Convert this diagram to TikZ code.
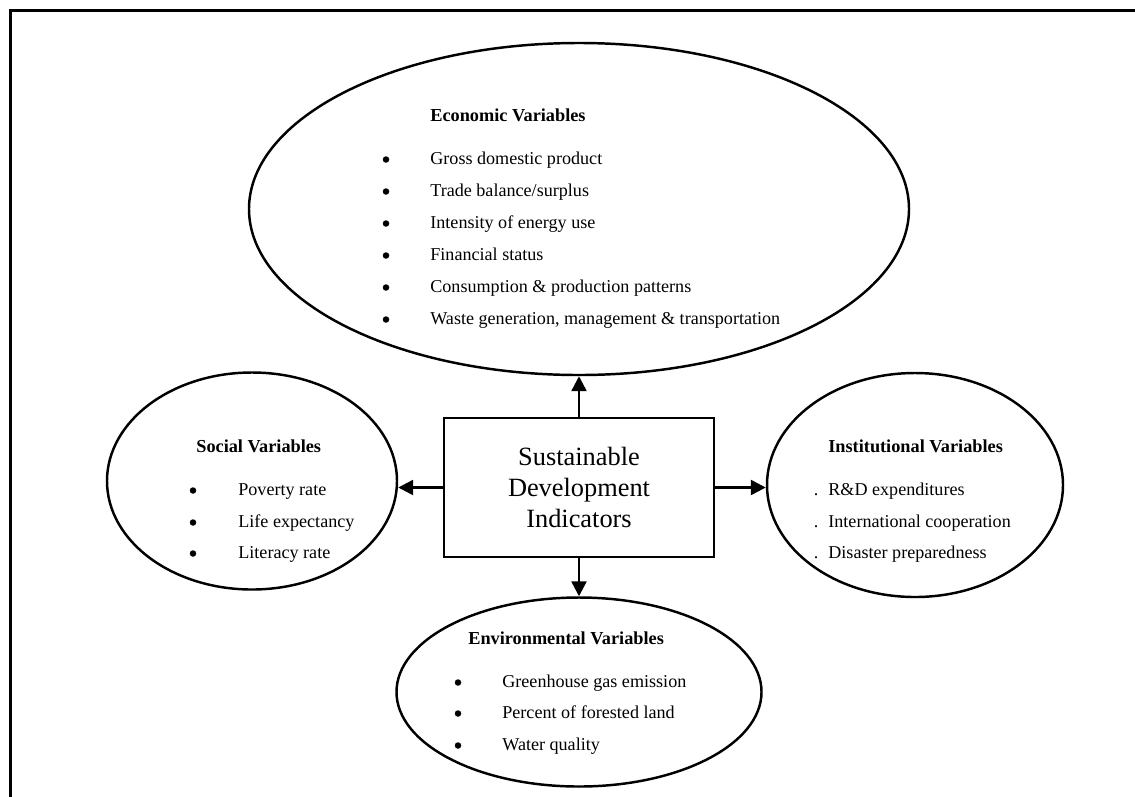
\documentclass[tikz,border=0pt]{standalone}
\usepackage{fontspec}
\setmainfont{Liberation Serif}
\usepackage{tikz}
\usetikzlibrary{positioning, arrows.meta, shapes.geometric}
\newcommand{\itemfont}{\fontsize{10.3}{12}\selectfont}
\newcommand{\headfont}{\fontsize{10.4}{12}\selectfont\bfseries}
\tikzstyle{arrow} = [line width=1.4pt, -{Triangle[length=3mm, width=3mm]}]
\tikzset{
  vargroup/.style={ellipse, draw, line width=1.4pt, inner sep=0pt},
  indicator/.style={rectangle, draw, line width=0.7pt, minimum width=54mm, minimum height=27.8mm, align=center, font=\fontsize{15}{17.6}\selectfont},
  heading/.style={anchor=base west, inner sep=0pt, font=\headfont},
  entry/.style={anchor=base west, inner sep=0pt, font=\itemfont},
  bulletmark/.style={circle, fill, inner sep=0pt, minimum size=1.3mm},
  dotmark/.style={anchor=base, inner sep=0pt, font=\itemfont},
  pageframe/.style={line width=1.5pt}
}

\begin{document}
\begin{tikzpicture}[x=0.2mm, y=-0.2mm]
  \useasboundingbox (0,0) rectangle (1135,796);
  % Page frame
  \draw[pageframe] (10.3,810) -- (10.3,10.3) -- (1150,10.3);

  % Central box
  \node[indicator] (sdi) at (579,487.5) {Sustainable\\Development\\Indicators};

  % Variable groups
  \node[vargroup, minimum width=132mm, minimum height=66.4mm] (econ) at (579,209) {};
  \node[vargroup, minimum width=58mm, minimum height=43.4mm] (social) at (252,481) {};
  \node[vargroup, minimum width=59.2mm, minimum height=44.8mm] (inst) at (915,485) {};
  \node[vargroup, minimum width=73mm, minimum height=37.8mm] (env) at (579,692) {};

  % Arrows out of the box
  \draw[arrow] (sdi.north) -- (econ.south);
  \draw[arrow] (sdi.south) -- (env.north);
  \draw[arrow] (sdi.west) -- (sdi.west -| social.east);
  \draw[arrow] (sdi.east) -- (sdi.east -| inst.west);

  % Economic variables
  \node[heading] (econ-head) at (430,121) {Economic Variables};
  \node[bulletmark] (econ-b1) at (386,159.5) {};
  \node[entry] (econ-1) at (430,164) {Gross domestic product};
  \node[bulletmark] (econ-b2) at (386,191.5) {};
  \node[entry] (econ-2) at (430,196) {Trade balance/surplus};
  \node[bulletmark] (econ-b3) at (386,223.5) {};
  \node[entry] (econ-3) at (430,228) {Intensity of energy use};
  \node[bulletmark] (econ-b4) at (386,255.5) {};
  \node[entry] (econ-4) at (430,260) {Financial status};
  \node[bulletmark] (econ-b5) at (386,287.5) {};
  \node[entry] (econ-5) at (430,292) {Consumption \& production patterns};
  \node[bulletmark] (econ-b6) at (386,319.5) {};
  \node[entry] (econ-6) at (430,324) {Waste generation, management \& transportation};

  % Social variables
  \node[heading] (social-head) at (196,452) {Social Variables};
  \node[bulletmark] (social-b1) at (193,490.5) {};
  \node[entry] (social-1) at (238,495) {Poverty rate};
  \node[bulletmark] (social-b2) at (193,522.5) {};
  \node[entry] (social-2) at (238,527) {Life expectancy};
  \node[bulletmark] (social-b3) at (193,553.5) {};
  \node[entry] (social-3) at (238,558) {Literacy rate};

  % Institutional variables
  \node[heading] (inst-head) at (828,452) {Institutional Variables};
  \node[dotmark] (inst-b1) at (816,495) {.};
  \node[entry] (inst-1) at (828,495) {R\&D expenditures};
  \node[dotmark] (inst-b2) at (816,527) {.};
  \node[entry] (inst-2) at (828,527) {International cooperation};
  \node[dotmark] (inst-b3) at (816,558) {.};
  \node[entry] (inst-3) at (828,558) {Disaster preparedness};

  % Environmental variables
  \node[heading] (env-head) at (468,644) {Environmental Variables};
  \node[bulletmark] (env-b1) at (458,682.5) {};
  \node[entry] (env-1) at (502,687) {Greenhouse gas emission};
  \node[bulletmark] (env-b2) at (458,713.5) {};
  \node[entry] (env-2) at (502,718) {Percent of forested land};
  \node[bulletmark] (env-b3) at (458,745.5) {};
  \node[entry] (env-3) at (502,750) {Water quality};
\end{tikzpicture}
\end{document}
